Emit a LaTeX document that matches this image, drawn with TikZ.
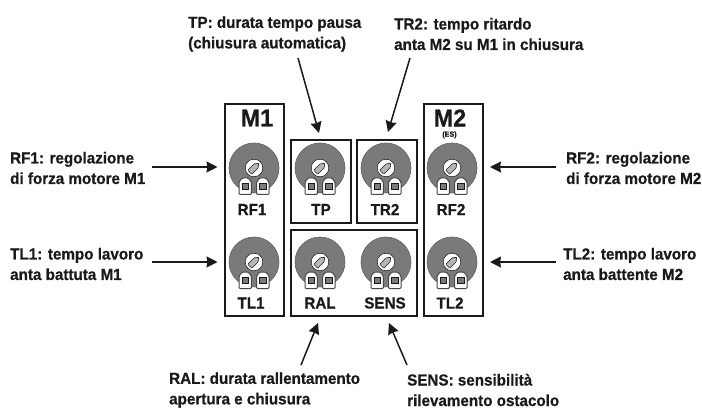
\documentclass[tikz,border=0pt]{standalone}
\usepackage{fontspec}
\setmainfont{Liberation Sans}
\newfontfamily\lf{Liberation Sans}[FakeStretch=.95,FakeBold=.6]
\usetikzlibrary{arrows.meta}
\definecolor{potgray}{HTML}{7A7A7A}
\definecolor{ink}{HTML}{1A1A1A}
\tikzset{
  panel/.style={draw=ink,line width=2pt,fill=none},
  potbody/.style={draw=ink!70,line width=.6pt,fill=potgray},
  potknob/.style={draw=ink,line width=.5pt,fill=white},
  potslot/.style={draw=ink,line width=.6pt,fill=potgray!55!white},
  potpin/.style={draw=ink!80,line width=1pt,fill=white},
  potsq/.style={draw=ink,line width=.8pt,fill=potgray},
  lab/.style={font=\lf\bfseries\fontsize{16}{20.5}\selectfont,text=ink,inner sep=0pt,align=left},
  potlab/.style={font=\lf\bfseries\fontsize{16}{16}\selectfont,text=ink,inner sep=0pt},
  title/.style={font=\lf\bfseries\fontsize{24.5}{25}\selectfont,text=ink,inner sep=0pt},
  arr/.style={draw=ink,line width=1.5pt,-{Stealth[length=11pt,width=11pt,inset=1pt]}},
}
\newcommand{\potm}[3]{% name, x, y
  \begin{scope}[shift={(#2,#3)}]
    \coordinate (#1) at (0,0);
    \draw[potbody] (0,0) circle[radius=25];
    \foreach \s in {-8.8,8.8}{
      \begin{scope}[shift={(\s,0)}]
        \draw[potpin,rounded corners=1pt] (-6.2,14) -- (-6.2,26.5) -- (6.2,26.5) -- (6.2,14) -- (3,10) -- (-3,10) -- cycle;
        \draw[potsq] (-3.2,15.5) rectangle (3.2,21.8);
      \end{scope}
    }
    \draw[potknob] (0,0) circle[radius=8.8];
    \begin{scope}[rotate=45]
      \draw[potslot,rounded corners=.5pt] (-6,-2.8) -- (3,-2.8) -- (6.6,0) -- (3,2.8) -- (-6,2.8) -- cycle;
    \end{scope}
  \end{scope}
}
\begin{document}
\begin{tikzpicture}[x=1pt,y=-1pt]
\useasboundingbox (0,0) rectangle (702,409);
% panels
\draw[panel] (224.5,104.5) rectangle (284,316);
\draw[panel] (291,140) rectangle (351,223);
\draw[panel] (357,140) rectangle (417,223);
\draw[panel] (423.5,104.5) rectangle (483,316);
\draw[panel] (291,230) rectangle (417,316);
% pots
\potm{pRFa}{254}{168}
\potm{pTP}{320}{168}
\potm{pTR}{386}{168}
\potm{pRFb}{452}{168}
\potm{pTLa}{254}{262}
\potm{pRAL}{320}{262}
\potm{pSENS}{386}{262}
\potm{pTLb}{452}{262}
% titles
\node[title] (tM1) at (257,118) {M1};
\node[title] (tM2) at (450,118) {M2};
\node[inner sep=0pt,text=ink,font=\lf\bfseries\fontsize{7.5}{7.5}\selectfont] (tES) at (449.5,134.8) {(ES)};
% pot labels
\node[potlab] (lRFa) at (252,209.5) {RF1};
\node[potlab] (lTP) at (321,209.5) {TP};
\node[potlab] (lTR) at (385,209.5) {TR2};
\node[potlab] (lRFb) at (451,209.5) {RF2};
\node[potlab] (lTLa) at (251,303) {TL1};
\node[potlab] (lRAL) at (320,303) {RAL};
\node[potlab] (lSENS) at (385,303) {SENS};
\node[potlab] (lTLb) at (450,303) {TL2};
% descriptions
\node[lab,anchor=west] (dRFa) at (10,168) {RF1: regolazione\\di forza motore M1};
\node[lab,anchor=west] (dTLa) at (10,264) {TL1: tempo lavoro\\anta battuta M1};
\node[lab,anchor=west] (dRFb) at (566,168) {RF2: regolazione\\di forza motore M2};
\node[lab,anchor=west] (dTLb) at (563,264) {TL2: tempo lavoro\\anta battente M2};
\node[lab,anchor=west] (dTP) at (188,34) {TP: durata tempo pausa\\(chiusura automatica)};
\node[lab,anchor=west] (dTR) at (394,34) {TR2: tempo ritardo\\anta M2 su M1 in chiusura};
\node[lab,anchor=west] (dRAL) at (169,390) {RAL: durata rallentamento\\apertura e chiusura};
\node[lab,anchor=west] (dSENS) at (407,390) {SENS: sensibilità\\rilevamento ostacolo};
% arrow ends
\coordinate (aRFa) at (152,167); \coordinate (bRFa) at (217.5,167);
\coordinate (aTLa) at (152,262); \coordinate (bTLa) at (217.5,262);
\coordinate (aRFb) at (556,167); \coordinate (bRFb) at (490,167);
\coordinate (aTLb) at (556,262); \coordinate (bTLb) at (490,262);
\coordinate (aTP) at (298,58); \coordinate (bTP) at (319,133);
\coordinate (aTR) at (410,58); \coordinate (bTR) at (388,132);
\coordinate (aRAL) at (301,365); \coordinate (bRAL) at (318,323);
\coordinate (aSENS) at (407,365); \coordinate (bSENS) at (389,323);
\foreach \k in {RFa,TLa,RFb,TLb,TP,TR,RAL,SENS}{\draw[arr] (a\k) -- (b\k);}
\end{tikzpicture}
\end{document}
